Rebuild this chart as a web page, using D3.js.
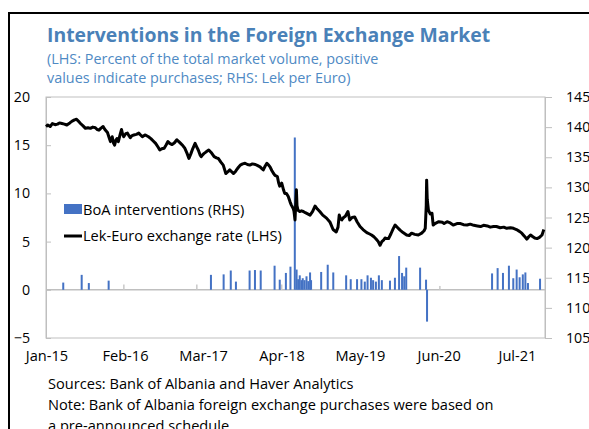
<!DOCTYPE html>
<html>
<head>
<meta charset="utf-8">
<script src="https://cdn.jsdelivr.net/npm/d3@7"></script>
<style>
  body { margin: 0; background: #fff; }
  text { font-family: "Open Sans", "Noto Sans", sans-serif; }
</style>
</head>
<body>
<div id="chart"></div>
<script>
// Lek per Euro (drawn on the right-hand scale)
var rateDates = [
  "2015-01-01","2015-01-10","2015-01-22","2015-02-02","2015-02-16","2015-02-28","2015-03-10","2015-03-22",
  "2015-04-04","2015-04-16","2015-05-01","2015-05-13","2015-05-25","2015-06-04","2015-06-13","2015-06-24",
  "2015-07-07","2015-07-19","2015-08-01","2015-08-13","2015-08-25","2015-09-07","2015-09-16","2015-09-25",
  "2015-10-04","2015-10-16","2015-10-25","2015-11-07","2015-11-16","2015-11-22","2015-12-01","2015-12-07",
  "2015-12-13","2015-12-19","2015-12-25","2016-01-01","2016-01-10","2016-01-17","2016-01-22","2016-01-28",
  "2016-02-07","2016-02-16","2016-02-25","2016-03-01","2016-03-10","2016-03-19","2016-04-01","2016-04-13",
  "2016-04-22","2016-05-01","2016-05-10","2016-05-16","2016-06-01","2016-06-13","2016-06-25","2016-07-07",
  "2016-07-19","2016-07-28","2016-08-07","2016-08-19","2016-08-28","2016-09-07","2016-09-16","2016-09-28",
  "2016-10-10","2016-10-22","2016-11-01","2016-11-10","2016-11-22","2016-12-01","2016-12-13","2016-12-22",
  "2017-01-01","2017-01-10","2017-01-22","2017-02-01","2017-02-07","2017-02-16","2017-02-22","2017-03-01",
  "2017-03-07","2017-03-19","2017-04-01","2017-04-13","2017-04-28","2017-05-10","2017-05-19","2017-06-01",
  "2017-06-13","2017-06-26","2017-07-07","2017-07-16","2017-07-25","2017-08-04","2017-08-13","2017-08-19",
  "2017-08-28","2017-09-07","2017-09-19","2017-10-01","2017-10-13","2017-10-25","2017-11-07","2017-11-22",
  "2017-12-04","2017-12-16","2017-12-25","2018-01-01","2018-01-10","2018-01-19","2018-01-28","2018-02-04",
  "2018-02-13","2018-02-22","2018-03-01","2018-03-13","2018-03-19","2018-03-25","2018-04-04","2018-04-13",
  "2018-04-19","2018-04-28","2018-05-07","2018-05-16","2018-05-22","2018-06-01","2018-06-05","2018-06-10",
  "2018-06-14","2018-06-17","2018-06-20","2018-06-25","2018-07-04","2018-07-13","2018-07-22","2018-08-01",
  "2018-08-13","2018-08-25","2018-09-07","2018-09-19","2018-10-01","2018-10-13","2018-10-28","2018-11-16",
  "2018-12-04","2018-12-19","2019-01-04","2019-01-13","2019-01-19","2019-01-25","2019-02-01","2019-02-10",
  "2019-02-19","2019-03-04","2019-03-13","2019-03-25","2019-04-07","2019-04-19","2019-05-04","2019-05-19",
  "2019-06-07","2019-06-19","2019-07-01","2019-07-13","2019-07-25","2019-08-04","2019-08-13","2019-08-22",
  "2019-09-01","2019-09-07","2019-09-16","2019-09-25","2019-10-07","2019-10-19","2019-10-28","2019-11-10",
  "2019-11-22","2019-12-07","2019-12-25","2020-01-07","2020-01-19","2020-02-04","2020-02-22","2020-03-10",
  "2020-03-22","2020-03-28","2020-04-02","2020-04-04","2020-04-07","2020-04-13","2020-04-22","2020-05-01",
  "2020-05-07","2020-05-16","2020-06-04","2020-06-22","2020-07-01","2020-07-16","2020-08-01","2020-08-16",
  "2020-09-04","2020-09-22","2020-10-07","2020-10-25","2020-11-10","2020-11-28","2020-12-16","2021-01-01",
  "2021-01-16","2021-02-04","2021-02-19","2021-03-07","2021-03-22","2021-04-10","2021-04-28","2021-05-13",
  "2021-06-01","2021-06-16","2021-07-01","2021-07-16","2021-07-28","2021-08-10","2021-08-22","2021-09-01",
  "2021-09-10","2021-09-22","2021-10-01","2021-10-13","2021-10-25","2021-11-07","2021-11-13","2021-11-16"
];
var rateValues = [
  140.1,140.35,140.1,140.6,140.4,140.5,140.7,140.6,
  140.5,140.35,140.7,141.0,141.2,141.3,141.0,140.6,
  140.2,139.8,139.9,139.8,140.0,139.9,139.6,139.5,
  139.8,140.1,139.6,139.1,138.2,137.6,138.4,137.4,
  137.0,137.8,138.1,137.6,138.8,139.6,138.9,138.4,
  138.9,139.0,138.5,138.25,138.6,138.7,138.8,139.0,
  138.7,138.4,138.6,138.7,138.4,138.1,137.7,137.3,
  136.7,136.2,136.4,136.5,137.0,137.6,137.3,137.1,
  137.4,137.9,137.6,137.3,136.9,136.5,135.6,134.8,
  135.6,136.4,137.3,136.6,136.2,135.4,135.1,135.4,
  135.6,135.9,136.2,135.8,135.1,134.9,134.8,134.2,
  133.7,132.3,132.6,132.9,132.6,132.3,132.6,132.9,
  133.3,133.7,133.9,134.0,133.8,133.7,133.9,133.8,
  133.6,133.4,133.1,132.9,133.5,134.0,133.7,133.4,
  132.8,132.3,132.0,131.8,130.8,130.2,130.7,129.6,
  129.0,129.0,128.5,127.6,127.1,126.5,126.0,124.6,
  127.5,129.6,127.0,126.2,126.0,126.1,126.0,125.8,
  125.6,125.4,126.0,126.9,126.4,126.0,125.4,124.9,
  124.2,123.0,122.6,123.4,125.4,124.8,124.6,125.0,
  125.2,126.0,124.6,125.0,125.1,124.3,123.5,123.0,
  122.5,122.3,122.1,121.8,121.4,121.0,120.4,121.0,
  121.3,121.6,121.5,121.5,122.3,123.2,123.75,123.3,
  122.9,122.5,122.1,122.0,122.4,122.2,122.1,122.4,
  122.8,123.2,127.0,131.2,128.0,126.2,125.6,125.7,
  123.75,124.0,124.3,124.2,124.0,124.3,124.1,123.75,
  124.0,124.0,123.8,123.75,123.9,123.7,123.6,123.5,
  123.7,123.6,123.4,123.5,123.5,123.3,123.4,123.2,
  123.3,123.2,123.0,122.7,122.4,121.9,121.4,121.8,
  122.1,121.8,121.6,121.5,121.7,122.1,122.7,123.0
];

// BoA interventions, percent of market volume (left-hand scale)
var boaDates = [
  "2015-03-29","2015-06-30","2015-08-05","2015-11-13",
  "2017-04-12","2017-06-15","2017-07-21","2017-08-16","2017-10-24","2017-11-20","2017-12-19",
  "2018-02-27","2018-03-25","2018-04-25","2018-05-18","2018-06-09",
  "2018-06-18","2018-06-26","2018-07-04","2018-07-13","2018-07-19","2018-07-28","2018-08-07","2018-08-16","2018-08-25","2018-08-30",
  "2018-10-20","2018-11-22","2018-12-20",
  "2019-02-23","2019-03-18","2019-04-19","2019-05-11","2019-05-28","2019-06-11","2019-06-28","2019-07-09",
  "2019-07-23","2019-08-07","2019-08-22","2019-10-02","2019-10-27","2019-11-17","2019-12-02","2019-12-13","2019-12-23",
  "2020-03-02","2020-04-01","2020-04-06",
  "2021-02-28","2021-03-28","2021-04-24","2021-05-24","2021-06-15","2021-07-02","2021-07-17","2021-08-02",
  "2021-08-15","2021-08-28","2021-10-28"
];
var boaValues = [
  0.75, 1.55, 0.7, 0.95,
  1.55, 1.6, 2.0, 0.85, 2.0, 2.05, 2.0,
  2.5, 1.05, 1.75, 2.4, 15.8,
  2.1, 1.1, 1.5, 1.0, 1.2, 1.0, 1.4, 0.9, 1.8, 1.0,
  1.85, 2.6, 1.8,
  1.5, 1.1, 1.1, 1.1, 0.85, 1.5, 1.25, 1.0,
  0.85, 1.5, 1.0, 0.95, 1.25, 3.5, 1.75, 1.4, 2.3,
  2.3, 1.05, -3.3,
  1.7, 2.25, 1.75, 2.5, 1.2, 2.1, 1.3, 1.6,
  1.8, 0.7, 1.15
];
// faint, very small entries
var smallDates = ["2016-01-30", "2017-02-01", "2018-04-05", "2020-06-11"];
var smallValues = [0.55, 0.55, 0.55, 0.4];

var xTickDates = ["2015-01-01","2016-02-01","2017-03-01","2018-04-01","2019-05-01","2020-06-01","2021-07-01"];
var xTickLabels = ["Jan-15","Feb-16","Mar-17","Apr-18","May-19","Jun-20","Jul-21"];
var leftTicks = [-5, 0, 5, 10, 15, 20];
var rightTicks = [105, 110, 115, 120, 125, 130, 135, 140, 145];

var titleText = "Interventions in the Foreign Exchange Market";
var subtitleLines = [
  "(LHS: Percent of the total market volume, positive",
  "values indicate purchases; RHS: Lek per Euro)"
];
var legendLabels = ["BoA interventions (RHS)", "Lek-Euro exchange rate (LHS)"];
var footLines = [
  "Sources: Bank of Albania and Haver Analytics",
  "Note: Bank of Albania foreign exchange purchases were based on",
  "a pre-announced schedule"
];

var parse = d3.timeParse("%Y-%m-%d");
var w = 589, h = 429;
var plotL = 46, plotR = 545, plotT = 97, plotB = 338;
var blue = "#4472c4", grey = "#bfbfbf";
var fs = "14.6px";

var svg = d3.select("#chart").append("svg").attr("width", w).attr("height", h);

var x = d3.scaleTime()
  .domain([parse("2015-01-01"), parse("2021-11-22")])
  .range([plotL, plotR]);
var yLeft = d3.scaleLinear().domain([-5, 20]).range([plotB, plotT]);
var yRight = d3.scaleLinear().domain([105, 145]).range([plotB, plotT]);

// outer frame
svg.append("path")
  .attr("d", "M9,429V13H589")
  .attr("fill", "none")
  .attr("stroke", "#000")
  .attr("stroke-width", 2);

// titles
svg.append("text")
  .attr("x", 47).attr("y", 42)
  .style("font-size", "19.4px").style("font-weight", "bold")
  .style("fill", "#4a81b8")
  .text(titleText);
svg.selectAll(".sub")
  .data(subtitleLines)
  .enter()
  .append("text")
  .attr("class", "sub")
  .attr("x", 47)
  .attr("y", function (d, i) { return 64 + i * 19; })
  .style("font-size", "14.4px")
  .style("fill", "#4f8ac4")
  .text(function (d) { return d; });

// plot border + zero line
svg.append("rect")
  .attr("x", plotL).attr("y", plotT)
  .attr("width", plotR - plotL).attr("height", plotB - plotT)
  .attr("fill", "none").attr("stroke", grey);
svg.append("line")
  .attr("x1", plotL).attr("x2", plotR)
  .attr("y1", yLeft(0)).attr("y2", yLeft(0))
  .attr("stroke", grey).attr("stroke-width", 1.5);

// axes
var axL = svg.append("g")
  .attr("transform", "translate(" + plotL + ",0)")
  .call(d3.axisLeft(yLeft).tickValues(leftTicks).tickSize(-5).tickPadding(16));
var axR = svg.append("g")
  .attr("transform", "translate(" + plotR + ",0)")
  .call(d3.axisRight(yRight).tickValues(rightTicks).tickSize(7).tickPadding(14));
[axL, axR].forEach(function (g) {
  g.select(".domain").attr("stroke", grey);
  g.selectAll(".tick line").attr("stroke", grey);
  g.selectAll("text")
    .style("font-size", "14.2px")
    .style("font-family", "'Open Sans', sans-serif")
    .attr("fill", "#000");
});

svg.selectAll(".xlab")
  .data(xTickDates)
  .enter()
  .append("text")
  .attr("class", "xlab")
  .attr("x", function (d) { return x(parse(d)) + 1; })
  .attr("y", 361)
  .attr("text-anchor", "middle")
  .style("font-size", fs)
  .text(function (d, i) { return xTickLabels[i]; });

// bars
function barY(v) { return v >= 0 ? yLeft(v) : yLeft(0); }
function barH(v) { return Math.abs(yLeft(v) - yLeft(0)); }

svg.selectAll(".small")
  .data(smallDates)
  .enter()
  .append("rect")
  .attr("class", "small")
  .attr("x", function (d) { return x(parse(d)) - 1; })
  .attr("y", function (d, i) { return barY(smallValues[i]); })
  .attr("width", 1.5)
  .attr("height", function (d, i) { return barH(smallValues[i]); })
  .style("fill", "#c9c9c9");

svg.selectAll(".bar")
  .data(boaDates)
  .enter()
  .append("rect")
  .attr("class", "bar")
  .attr("x", function (d) { return x(parse(d)) - 1; })
  .attr("y", function (d, i) { return barY(boaValues[i]); })
  .attr("width", 2)
  .attr("height", function (d, i) { return barH(boaValues[i]); })
  .style("fill", blue);

// exchange rate line
var line = d3.line()
  .x(function (d) { return x(parse(d)); })
  .y(function (d, i) { return yRight(rateValues[i]); });
svg.append("path")
  .datum(rateDates)
  .attr("d", line)
  .attr("fill", "none")
  .attr("stroke", "#000")
  .attr("stroke-width", 3)
  .attr("stroke-linejoin", "round");

// legend
svg.append("rect")
  .attr("x", 64).attr("y", 204)
  .attr("width", 18).attr("height", 10)
  .style("fill", blue);
svg.append("line")
  .attr("x1", 64).attr("x2", 82)
  .attr("y1", 236).attr("y2", 236)
  .attr("stroke", "#000").attr("stroke-width", 3);
svg.selectAll(".leg")
  .data(legendLabels)
  .enter()
  .append("text")
  .attr("class", "leg")
  .attr("x", 83)
  .attr("y", function (d, i) { return 215 + i * 26; })
  .style("font-size", fs)
  .text(function (d) { return d; });

// notes
svg.selectAll(".foot")
  .data(footLines)
  .enter()
  .append("text")
  .attr("class", "foot")
  .attr("x", 48)
  .attr("y", function (d, i) { return 389 + i * 21; })
  .style("font-size", fs)
  .text(function (d) { return d; });
</script>
</body>
</html>
